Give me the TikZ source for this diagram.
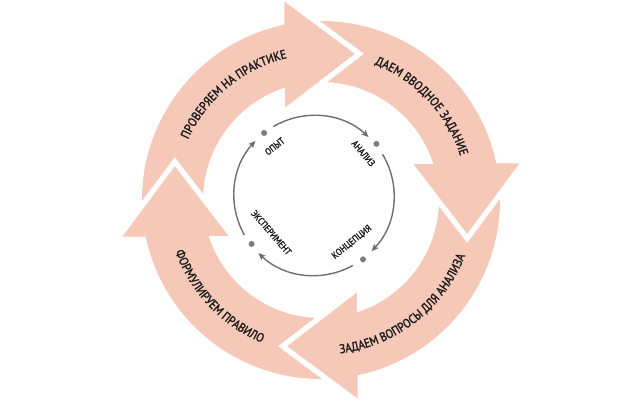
\documentclass[tikz,border=0pt]{standalone}
\usepackage{fontspec}
\setmainfont{PT Sans}
\newfontfamily\lblfont{PT Sans}[FakeBold=1.8, FakeStretch=0.88]
\usetikzlibrary{calc,decorations.text,arrows.meta}
\definecolor{ringpink}{HTML}{F6C8B8}
\definecolor{circgray}{HTML}{6E6E6E}
\definecolor{dotgray}{HTML}{7C7C7C}
\definecolor{txt}{HTML}{1C1C1C}
\newcommand{\outerfont}{\lblfont\fontsize{12.5}{14}\selectfont}
\newcommand{\innerfont}{\lblfont\fontsize{9.4}{10}\selectfont}
\tikzset{
  shaftfill/.style={fill=ringpink},
  headgap/.style={draw=white, line width=11pt, line join=miter},
  circline/.style={draw=circgray, line width=1.4pt, -{Stealth[length=7pt,width=6pt,inset=1.5pt]}},
  dotnode/.style={circle, fill=dotgray, inner sep=0pt, minimum size=6pt},
  inlbl/.style={font=\innerfont, text=txt, inner sep=0pt},
  toplbl/.style={decorate, decoration={text along path, text color=txt, text align=center}},
}
\begin{document}
\begin{tikzpicture}[x=1pt,y=1pt]
\useasboundingbox (-321,-200) rectangle (319,200);
% shafts
\foreach \t in {77,-13,-103,167}{
  \fill[shaftfill] (\t+110:179) arc[start angle=\t+110, end angle=\t+20, radius=179]
     -- (\t+20:118) arc[start angle=\t+20, end angle=\t+110, radius=118] -- cycle;
}
% heads
\foreach \t in {77,-13,-103,167}{
  \coordinate (T) at (\t:150);
  \coordinate (B) at (\t+27:150);
  \coordinate (O) at ($(B)+(\t+13.5:53)$);
  \coordinate (I) at ($(B)+(\t+193.5:53)$);
  \draw[headgap] (O) -- (T) -- (I);
  \fill[ringpink] (O) -- (T) -- (I) -- cycle;
}
% outer labels
\path[toplbl, decoration={text={|\outerfont|ПРОВЕРЯЕМ НА ПРАКТИКЕ}}]
  (169.5:146) arc[start angle=169.5, end angle=89.5, radius=146];
\path[toplbl, decoration={text={|\outerfont|ДАЕМ ВВОДНОЕ ЗАДАНИЕ}}]
  (83:146) arc[start angle=83, end angle=3, radius=146];
\path[toplbl, decoration={text={|\outerfont|ЗАДАЕМ ВОПРОСЫ ДЛЯ АНАЛИЗА}}]
  (-92:154.5) arc[start angle=-92, end angle=-12, radius=154.5];
\path[toplbl, decoration={text={|\outerfont|ФОРМУЛИРУЕМ ПРАВИЛО}}]
  (183.5:154.5) arc[start angle=183.5, end angle=263.5, radius=154.5];
% inner cycle
\coordinate (ic) at (-7,4.5);
\node[dotnode] (opyt) at ($(ic)+(128.6:80)$) {};
\node[dotnode] (analiz) at ($(ic)+(39.6:81)$) {};
\node[dotnode] (konc) at ($(ic)+(-52.5:80.5)$) {};
\node[dotnode] (eksp) at ($(ic)+(217.8:79)$) {};
\draw[circline] ($(ic)+(120.5:80)$) arc[start angle=120.5, end angle=47, radius=80];
\draw[circline] ($(ic)+(31:80)$) arc[start angle=31, end angle=-44, radius=80];
\draw[circline] ($(ic)+(-61:80)$) arc[start angle=-61, end angle=-134, radius=80];
\draw[circline] ($(ic)+(209.5:80)$) arc[start angle=209.5, end angle=137, radius=80];
\node[inlbl, rotate=38.6] (lopyt) at ($(ic)+(128.6:63)$) {ОПЫТ};
\node[inlbl, rotate=-49.5] (lanaliz) at ($(ic)+(40.5:65)$) {АНАЛИЗ};
\node[inlbl, rotate=39] (lkonc) at ($(ic)+(-51:60)$) {КОНЦЕПЦИЯ};
\node[inlbl, rotate=-49] (leksp) at ($(ic)+(221:56.5)$) {ЭКСПЕРИМЕНТ};
\end{tikzpicture}
\end{document}
